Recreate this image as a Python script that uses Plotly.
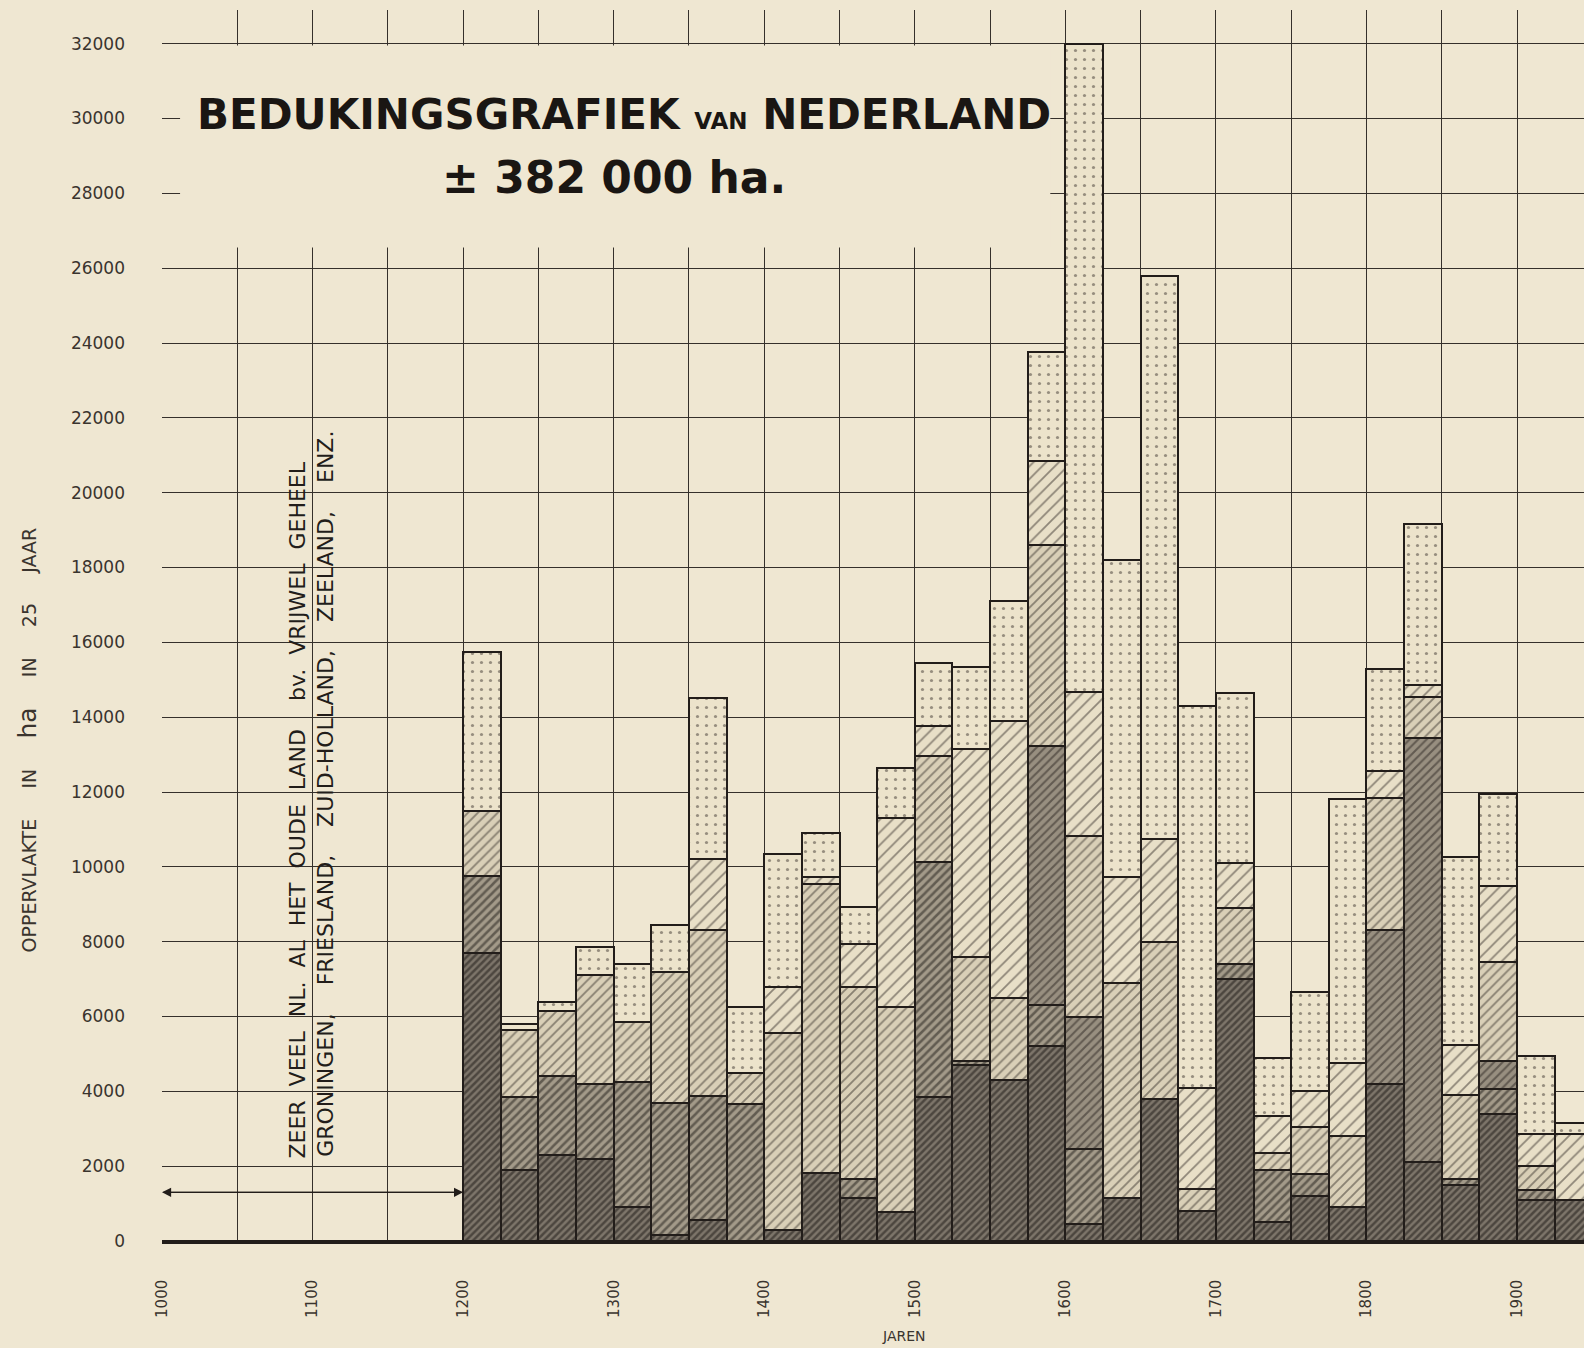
import plotly.graph_objects as go

# ---- data (ha per 25 jaar), cumulative top of each layer per bar ----
years = [1200, 1225, 1250, 1275, 1300, 1325, 1350, 1375, 1400, 1425,
         1450, 1475, 1500, 1525, 1550, 1575, 1600, 1625, 1650, 1675,
         1700, 1725, 1750, 1775, 1800, 1825, 1850, 1875, 1900, 1925]

top_zeer_donker = [7700, 1900, 2300, 2200, 900, 150, 550, 0, 300, 1820,
                   1150, 770, 3860, 4700, 4300, 5200, 450, 1150, 3800, 800,
                   7000, 500, 1200, 900, 4200, 2100, 1500, 3400, 1100, 1100]
top_donker = [9750, 3850, 4400, 4200, 4250, 3680, 3870, 3660, 300, 1820,
              1650, 770, 10130, 4800, 4300, 6300, 2450, 1150, 3800, 800,
              7400, 1900, 1800, 900, 4200, 2100, 1650, 4050, 1350, 1100]
top_grijs = [9750, 3850, 4400, 4200, 4250, 3680, 3870, 3660, 300, 1820,
             1650, 770, 10130, 4800, 4300, 13240, 6000, 1150, 3800, 800,
             7400, 1900, 1800, 900, 8300, 13450, 1650, 4800, 1350, 1100]
top_licht = [11500, 5650, 6150, 7100, 5850, 7200, 8300, 4500, 5550, 9530,
             6800, 6250, 12960, 7600, 6500, 18600, 10830, 6900, 8000, 1400,
             8900, 2350, 3050, 2800, 11850, 14550, 3900, 7450, 2000, 1100]
top_gearceerd = [11500, 5650, 6150, 7100, 5850, 7200, 10200, 4500, 6800, 9740,
                 7950, 11300, 13770, 13150, 13900, 20850, 14670, 9720, 10750, 4100,
                 10100, 3350, 4000, 4750, 12550, 14850, 5250, 9480, 2850, 2850]
top_gestippeld = [15750, 5800, 6400, 7850, 7400, 8450, 14500, 6250, 10330, 10900,
                  8930, 12650, 15450, 15350, 17100, 23750, 32000, 18200, 25800, 14300,
                  14650, 4900, 6650, 11800, 15300, 19150, 10250, 11950, 4950, 3150]

y_ticks = list(range(0, 32001, 2000))
x_ticks = list(range(1000, 1901, 100))

PAPER = "#efe7d2"
INK = "#221d1a"
GRID = "#35302b"

layers = [
    ("zeer donker", top_zeer_donker, dict(shape="/", fgcolor="#1b1714", bgcolor="#7d756a", size=5, solidity=0.5)),
    ("donker", top_donker, dict(shape="/", fgcolor="#221d19", bgcolor="#a39a89", size=6, solidity=0.42)),
    ("grijs", top_grijs, dict(shape="/", fgcolor="#2c2621", bgcolor="#988f80", size=6, solidity=0.35)),
    ("licht", top_licht, dict(shape="/", fgcolor="#3a342e", bgcolor="#d9cfb7", size=7, solidity=0.27)),
    ("gearceerd", top_gearceerd, dict(shape="/", fgcolor="#342e29", bgcolor="#e8dfc7", size=9, solidity=0.2)),
    ("gestippeld", top_gestippeld, dict(shape=".", fgcolor="#3f3832", bgcolor="#ece3cb", size=9, solidity=0.1)),
]

fig = go.Figure()
prev = [0] * len(years)
for name, tops, pat in layers:
    heights = [t - p for t, p in zip(tops, prev)]
    fig.add_trace(go.Bar(
        x=years, y=heights, name=name, width=25, offset=0,
        marker=dict(color=pat["bgcolor"], pattern=pat,
                    line=dict(color=INK, width=2)),
        showlegend=False,
    ))
    prev = tops

# cover grid in title area (grid is interrupted there in the original)
fig.add_shape(type="rect", xref="x", yref="y", x0=1012, x1=1590, y0=26550, y1=31950,
              fillcolor=PAPER, line_width=0, layer="between")

# arrow 1000 - 1200
for a, b in [(1000, 1200), (1200, 1000)]:
    fig.add_annotation(x=a, y=1300, ax=b, ay=1300, xref="x", yref="y", axref="x", ayref="y",
                       showarrow=True, arrowhead=2, arrowsize=1.3, arrowwidth=1.4,
                       arrowcolor=INK, text="")

fig.add_annotation(x=1090, y=2150, xref="x", yref="y", textangle=-90, showarrow=False,
                   xanchor="center", yanchor="bottom",
                   text="ZEER  VEEL  NL.  AL  HET  OUDE  LAND    bv.  VRIJWEL  GEHEEL",
                   font=dict(family="DejaVu Sans", size=22, color=INK))
fig.add_annotation(x=1109, y=2200, xref="x", yref="y", textangle=-90, showarrow=False,
                   xanchor="center", yanchor="bottom",
                   text="GRONINGEN,    FRIESLAND,    ZUID-HOLLAND,    ZEELAND,    ENZ.",
                   font=dict(family="DejaVu Sans", size=22, color=INK))

# titles
fig.add_annotation(x=(624 - 162) / 1422, y=(1240.5 - 114) / 1230.8, xref="paper", yref="paper",
                   showarrow=False, xanchor="center", yanchor="middle",
                   text="<b>BEDUKINGSGRAFIEK <span style='font-size:23px'>VAN</span> NEDERLAND</b>",
                   font=dict(family="DejaVu Sans", size=42, color="#1a1613"))
fig.add_annotation(x=(614 - 162) / 1422, y=(1240.5 - 177) / 1230.8, xref="paper", yref="paper",
                   showarrow=False, xanchor="center", yanchor="middle",
                   text="<b>± 382 000 ha.</b>",
                   font=dict(family="DejaVu Sans", size=44, color="#1a1613"))

fig.add_annotation(x=(27 - 162) / 1422, y=(1240.5 - 740) / 1230.8, xref="paper", yref="paper",
                   showarrow=False, textangle=-90, xanchor="center", yanchor="middle",
                   text="OPPERVLAKTE     IN     <span style='font-size:25px'>ha</span>     IN     25     JAAR",
                   font=dict(family="DejaVu Sans", size=19, color="#3a342e"))
fig.add_annotation(x=(904 - 162) / 1422, y=(1240.5 - 1335) / 1230.8, xref="paper", yref="paper",
                   showarrow=False, xanchor="center", yanchor="middle",
                   text="JAREN", font=dict(family="DejaVu Sans", size=14, color="#3a342e"))

fig.update_layout(
    width=1584, height=1348,
    margin=dict(l=162, r=0, t=10, b=107),
    paper_bgcolor=PAPER, plot_bgcolor=PAPER,
    barmode="stack", bargap=0,
    xaxis=dict(range=[1000, 1944.5], tickvals=x_ticks, ticktext=[str(v) for v in x_ticks],
               tickangle=-90, showgrid=True, gridcolor=GRID, gridwidth=1.4,
               ticks="", ticklabelstandoff=30,
               tickfont=dict(family="DejaVu Sans", size=15, color="#3a342e"),
               showline=True, linecolor=INK, linewidth=2.5, zeroline=False, fixedrange=True),
    yaxis=dict(range=[0, 32900], tickvals=y_ticks, ticktext=[str(v) for v in y_ticks],
               showgrid=True, gridcolor=GRID, gridwidth=1.4,
               ticks="", ticklabelstandoff=36,
               tickfont=dict(family="DejaVu Sans", size=17, color="#3a342e"),
               showline=False, zeroline=True, zerolinecolor=INK, zerolinewidth=2.5, fixedrange=True),
)
# vertical gridlines every 50 years
fig.update_xaxes(minor=dict(tickvals=list(range(1050, 1951, 100)), showgrid=True,
                            gridcolor=GRID, gridwidth=1.4))

fig.write_html("out.html", config={"displayModeBar": False},
               post_script="document.body.style.margin='0';")
